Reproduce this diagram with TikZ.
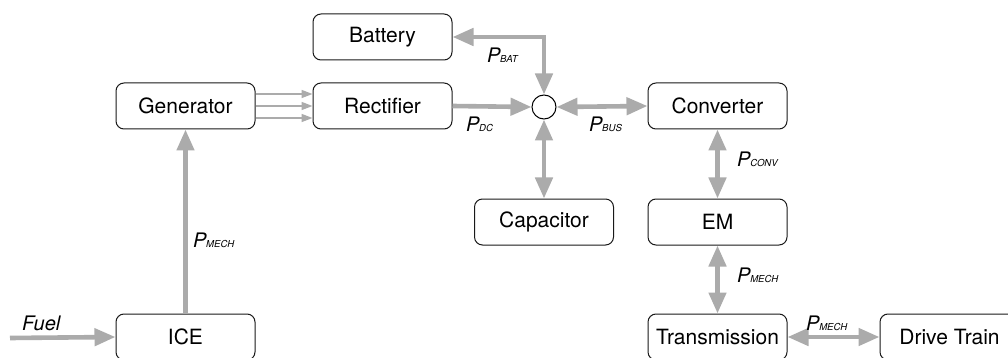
\documentclass[tikz,border=0pt]{standalone}
\usepackage{fontspec}
\setmainfont{TeX Gyre Heros}
\usetikzlibrary{arrows.meta}
\definecolor{flow}{HTML}{ABABAB}
\newcommand{\pw}[1]{{\itshape\fontsize{20}{22}\selectfont P\kern-0.3pt{\fontsize{9.6}{10}\selectfont #1}}}
\tikzset{
  block/.style={draw=black!90, line width=1pt, rounded corners=8pt, minimum width=139pt,
    minimum height=46pt, inner sep=0pt, font=\fontsize{21}{24}\selectfont},
  bigflow/.style={draw=flow, line width=4.6pt, -{Triangle[length=21pt,width=17pt]}},
  bothflow/.style={draw=flow, line width=4.6pt, {Triangle[length=21pt,width=17pt]}-{Triangle[length=21pt,width=17pt]}},
  thinflow/.style={draw=flow, line width=1.5pt, -{Triangle[length=11pt,width=8pt]}},
  lab/.style={anchor=base west, inner sep=0pt}
}
\begin{document}
\begin{tikzpicture}[x=1pt,y=-1pt]
\useasboundingbox[fill=white] (0,0) rectangle (1008,358);

% blocks
\node[block] (bat)  at (382.5,37)  {Battery};
\node[block] (gen)  at (185.5,106) {Generator};
\node[block] (rect) at (382.5,106) {Rectifier};
\node[block] (conv) at (717.5,106) {Converter};
\node[block] (cap)  at (544,222)   {Capacitor};
\node[block] (em)   at (717.5,222) {EM};
\node[block] (ice)  at (185.5,337) {ICE};
\node[block] (tran) at (717.5,337) {Transmission};
\node[block] (drv)  at (949.5,337) {Drive Train};
\node[draw=black, line width=1pt, circle, minimum size=24pt, inner sep=0pt] (bus) at (544,107) {};
\coordinate (fuelin) at (10,338);

% power flows
\draw[bigflow] (fuelin) -- (ice.west);
\draw[bigflow] (ice.north) -- (gen.south);
\foreach \d in {-12,0,12}
  \draw[thinflow] ([yshift=\d pt]gen.east) -- ([yshift=\d pt]rect.west);
\draw[bigflow] (rect.east) -- (bus.west);
\draw[bothflow] (bat.east) -| (bus.north);
\draw[bothflow] (bus.east) -- (conv.west);
\draw[bothflow] (bus.south) -- (cap.north);
\draw[bothflow] (conv.south) -- (em.north);
\draw[bothflow] (em.south) -- (tran.north);
\draw[bothflow] (tran.east) -- (drv.west);

% labels
\node[lab, font=\itshape\fontsize{20}{22}\selectfont] (lfuel) at (22,330) {Fuel};
\node[lab] (lmg)   at (193,247) {\pw{MECH}};
\node[lab] (lbat)  at (487,63)  {\pw{BAT}};
\node[lab] (ldc)   at (466,132) {\pw{DC}};
\node[lab] (lbus)  at (589,132) {\pw{BUS}};
\node[lab] (lconv) at (737,167) {\pw{CONV}};
\node[lab] (lme)   at (737,282) {\pw{MECH}};
\node[lab] (lmt)   at (806,330) {\pw{MECH}};
\end{tikzpicture}
\end{document}
